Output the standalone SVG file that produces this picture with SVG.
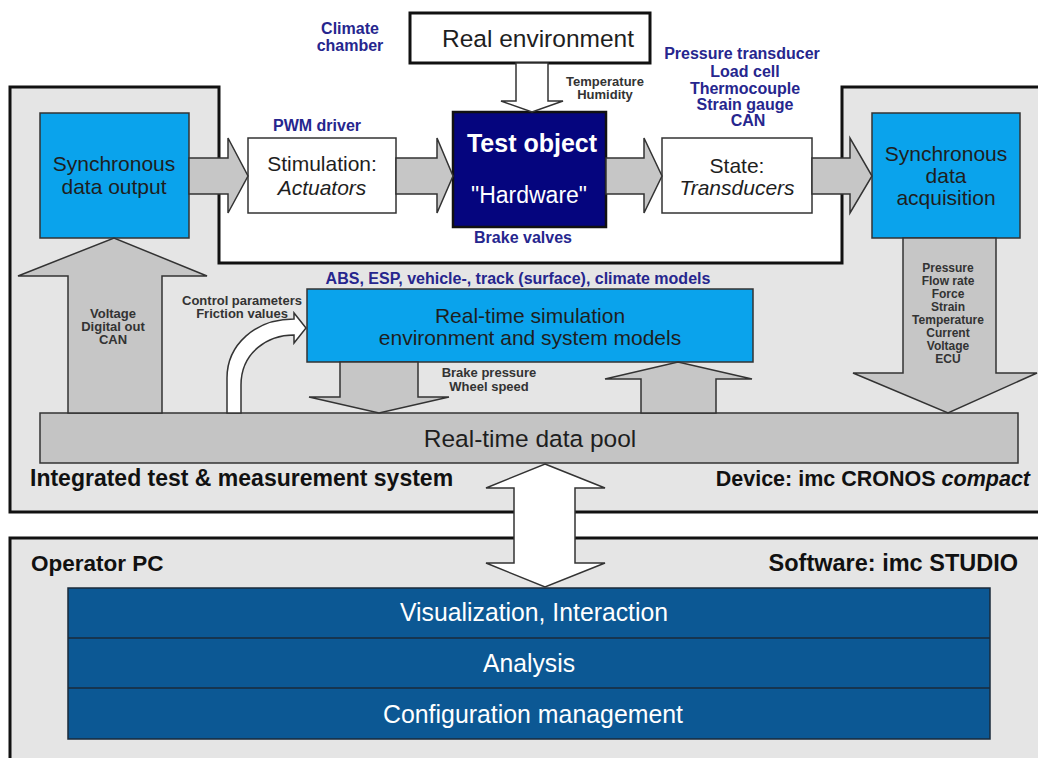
<svg xmlns="http://www.w3.org/2000/svg" width="1038" height="758" viewBox="0 0 1038 758">
<style>
text{font-family:"Liberation Sans",Arial,sans-serif}
.frame{fill:#e5e5e5;stroke:#111;stroke-width:3}
.wbox{fill:#fff;stroke:#333;stroke-width:1.5}
.lblue{fill:#0aa3ec;stroke:#333;stroke-width:1.5}
.garrow{fill:#c6c6c6;stroke:#333;stroke-width:1.5;stroke-linejoin:miter}
.warrow{fill:#fff;stroke:#333;stroke-width:1.5}
.bt{font-size:21px;fill:#1e1e1e;text-anchor:middle}
.blue{font-size:16px;font-weight:bold;fill:#26268e;text-anchor:middle}
.sm{font-size:13px;font-weight:bold;fill:#333;text-anchor:middle}
.ls{font-size:12px;font-weight:bold;fill:#333;text-anchor:middle}
.big{font-weight:bold;fill:#111}
.st{font-family:"Liberation Sans Narrow","Liberation Sans",Arial,sans-serif;font-size:26px;fill:#fff;text-anchor:middle}
</style>
<rect width="1038" height="758" fill="#fff"/>

<g id="integrated-system">
<path class="frame" d="M10,87 H219 V263 H842 V87 H1045 V512 H10 Z"/>
<text class="big" x="30" y="486" font-size="23">Integrated test &amp; measurement system</text>
<text class="big" x="1030" y="486" font-size="21.5" text-anchor="end">Device: imc CRONOS <tspan font-style="italic"> compact</tspan></text>
</g>

<g id="operator-pc">
<rect class="frame" x="10" y="538" width="1040" height="240"/>
<text class="big" x="31" y="571" font-size="22.5">Operator PC</text>
<text class="big" x="1018" y="571" font-size="23.5" text-anchor="end">Software: imc STUDIO</text>
</g>

<g id="software-stack">
<rect x="68" y="588" width="922" height="151" fill="#0c5894" stroke="#1a2a3a" stroke-width="1.5"/>
<line x1="68" y1="638" x2="990" y2="638" stroke="#1a2a3a" stroke-width="1.5"/>
<line x1="68" y1="688" x2="990" y2="688" stroke="#1a2a3a" stroke-width="1.5"/>
<text class="st" x="534" y="621" textLength="268" lengthAdjust="spacingAndGlyphs">Visualization, Interaction</text>
<text class="st" x="529" y="672" textLength="92" lengthAdjust="spacingAndGlyphs">Analysis</text>
<text class="st" x="533" y="723" textLength="300" lengthAdjust="spacingAndGlyphs">Configuration management</text>
</g>

<g id="real-environment">
<rect x="410" y="13" width="240" height="50" fill="#fff" stroke="#111" stroke-width="3"/>
<text x="538" y="47" font-size="24.5" fill="#1e1e1e" text-anchor="middle">Real environment</text>
</g>
<g id="climate-chamber-label">
<text class="blue" x="350" y="34">Climate</text>
<text class="blue" x="350" y="51">chamber</text>
</g>

<g id="test-object">
<rect x="453" y="112" width="153" height="115" fill="#05057e" stroke="#111" stroke-width="2.5"/>
<text x="532" y="152" font-size="25" font-weight="bold" fill="#fff" text-anchor="middle">Test object</text>
<text x="529" y="203" font-size="23" fill="#fff" text-anchor="middle">"Hardware"</text>
<text class="blue" x="523" y="243">Brake valves</text>
</g>

<g id="stimulation">
<rect class="wbox" x="248" y="138" width="148" height="75"/>
<text class="bt" x="322" y="171">Stimulation:</text>
<text class="bt" x="322" y="195" font-style="italic">Actuators</text>
<text class="blue" x="317" y="131">PWM driver</text>
</g>

<g id="state">
<rect class="wbox" x="662" y="138" width="150" height="75"/>
<text class="bt" x="737" y="173">State:</text>
<text class="bt" x="737" y="195" font-style="italic">Transducers</text>
<text class="blue" x="742" y="59">Pressure transducer</text>
<text class="blue" x="745" y="77">Load cell</text>
<text class="blue" x="745" y="94">Thermocouple</text>
<text class="blue" x="745" y="110">Strain gauge</text>
<text class="blue" x="748" y="126">CAN</text>
</g>

<g id="sync-output">
<rect class="lblue" x="40" y="113" width="149" height="125"/>
<text class="bt" x="114" y="171">Synchronous</text>
<text class="bt" x="114" y="194">data output</text>
</g>

<g id="sync-acquisition">
<rect class="lblue" x="872" y="113" width="148" height="125"/>
<text class="bt" x="946" y="161">Synchronous</text>
<text class="bt" x="946" y="183">data</text>
<text class="bt" x="946" y="205">acquisition</text>
</g>

<g id="simulation">
<rect class="lblue" x="307" y="289" width="446" height="73"/>
<text class="bt" x="530" y="323">Real-time simulation</text>
<text class="bt" x="530" y="345">environment and system models</text>
<text class="blue" x="518" y="284">ABS, ESP, vehicle-, track (surface), climate models</text>
</g>

<g id="data-pool">
<rect x="40" y="413" width="978" height="50" fill="#c4c4c4" stroke="#333" stroke-width="1.5"/>
<text x="530" y="447" font-size="24.5" fill="#1e1e1e" text-anchor="middle">Real-time data pool</text>
</g>

<g id="connectors">
<path class="garrow" d="M189,158 H228 V138 L248,176 L228,213 V194 H189 Z"/>
<path class="garrow" d="M396,158 H437 V138 L453,176 L437,213 V194 H396 Z"/>
<path class="garrow" d="M606,158 H644 V138 L662,176 L644,213 V194 H606 Z"/>
<path class="garrow" d="M812,158 H850 V138 L872,176 L850,213 V194 H812 Z"/>
<path class="warrow" d="M516,63 H548 V101 H563 L532,112 L501,101 H516 Z"/>
<path class="garrow" d="M68,413 V276 H18 L114,238 L207,276 H162 V413 Z"/>
<path class="garrow" d="M903,238 V373 H853 L948,413 L1037,373 H996 V238 Z"/>
<path class="garrow" d="M340,362 V397 H309 L379,413 L449,397 H418 V362 Z"/>
<path class="garrow" d="M641,413 V379 H605 L678,362 L752,379 H716 V413 Z"/>
<path class="warrow" d="M227,413 V378 C227,345 255,319 294,319 V313 L306,328 L294,343 V335 C268,335 241,352 241,385 V413 Z"/>
<path class="warrow" d="M545,464 L605,488 H575 V563 H605 L545,587 L486,563 H514 V488 H486 Z"/>
</g>

<g id="labels">
<text class="sm" x="605" y="86">Temperature</text>
<text class="sm" x="605" y="99">Humidity</text>
<text class="sm" x="242" y="305">Control parameters</text>
<text class="sm" x="242" y="318">Friction values</text>
<text class="sm" x="113" y="318">Voltage</text>
<text class="sm" x="113" y="331">Digital out</text>
<text class="sm" x="113" y="344">CAN</text>
<text class="sm" x="489" y="377">Brake pressure</text>
<text class="sm" x="489" y="391">Wheel speed</text>
<text class="ls" x="948" y="272">Pressure</text>
<text class="ls" x="948" y="285">Flow rate</text>
<text class="ls" x="948" y="298">Force</text>
<text class="ls" x="948" y="311">Strain</text>
<text class="ls" x="948" y="324">Temperature</text>
<text class="ls" x="948" y="337">Current</text>
<text class="ls" x="948" y="350">Voltage</text>
<text class="ls" x="948" y="363">ECU</text>
</g>
</svg>
